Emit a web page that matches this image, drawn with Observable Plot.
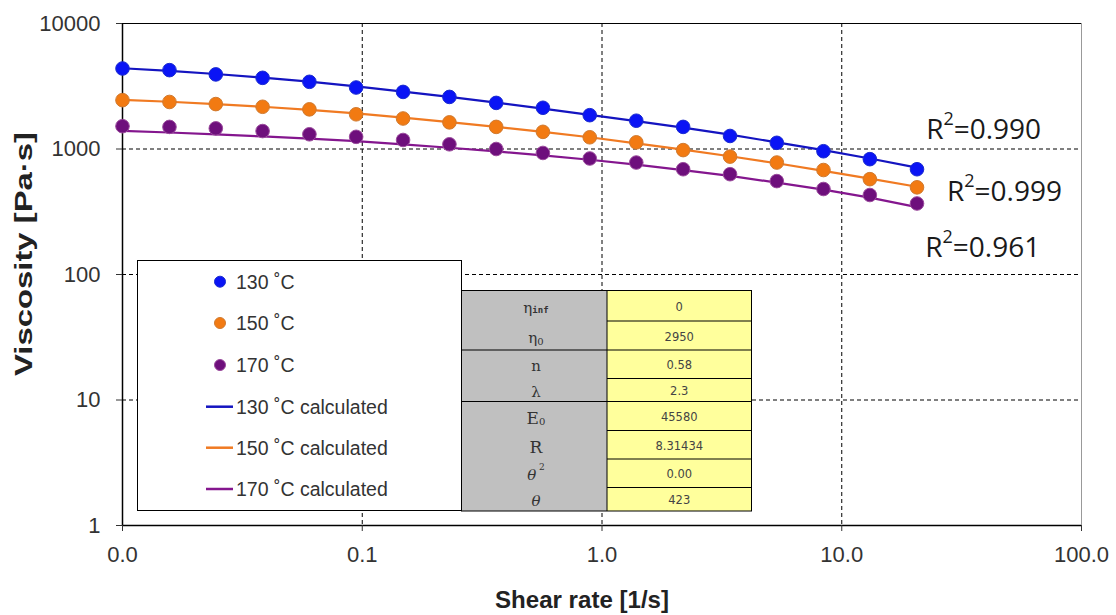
<!DOCTYPE html>
<html><head><meta charset="utf-8">
<script src="https://cdn.jsdelivr.net/npm/d3@7"></script>
<script src="https://cdn.jsdelivr.net/npm/@observablehq/plot@0.6"></script>
<style>
body{margin:0;background:#fff}
#chart svg{font-family:"Liberation Sans",Arial,sans-serif;background:#fff}
</style>
</head><body><div id="chart"></div>
<script>
// ---- data ----
const shearRate = [0.0100, 0.0157, 0.0245, 0.0384, 0.0602, 0.0943, 0.148, 0.231, 0.362, 0.567, 0.889, 1.39, 2.18, 3.42, 5.36, 8.39, 13.1, 20.6];
const eta130 = [4380, 4250, 3930, 3690, 3430, 3090, 2850, 2600, 2330, 2130, 1860, 1680, 1500, 1270, 1120, 960, 830, 690];
const eta150 = [2450, 2370, 2280, 2170, 2070, 1890, 1750, 1630, 1500, 1370, 1240, 1130, 980, 870, 780, 680, 575, 495];
const eta170 = [1520, 1500, 1460, 1390, 1310, 1250, 1180, 1090, 1000, 930, 840, 780, 690, 630, 555, 480, 430, 368];
const calc130 = [4400, 4200, 3960, 3710, 3440, 3150, 2870, 2600, 2340, 2100, 1870, 1670, 1480, 1300, 1130, 980, 840, 710];
const calc150 = [2460, 2380, 2280, 2170, 2050, 1920, 1780, 1640, 1500, 1370, 1240, 1110, 990, 875, 770, 670, 580, 500];
const calc170 = [1395, 1354, 1306, 1259, 1209, 1155, 1089, 1023, 956, 890, 821, 751, 678, 610, 540, 475, 410, 344];
const seriesNames = ["130 \u02DAC", "150 \u02DAC", "170 \u02DAC"];
const calcNames = ["130 \u02DAC calculated", "150 \u02DAC calculated", "170 \u02DAC calculated"];
const xTicks = [0.01, 0.1, 1, 10, 100];
const yTicks = [1, 10, 100, 1000, 10000];
const xTitle = "Shear rate [1/s]";
const yTitle = "Viscosity [Pa\u00B7s]";
const r2Labels = ["0.990", "0.999", "0.961"];
const r2Shear = [22.6, 27.6, 22.4];
const r2Eta = [1466, 470, 168];
const paramNames = ["eta_inf", "eta_0", "n", "lambda", "E_0", "R", "theta2", "theta"];
const paramValues = ["0", "2950", "0.58", "2.3", "45580", "8.31434", "0.00", "423"];

// ---- styling ----
const dotFill = ["#0a14f5", "#f27a12", "#6e0f7c"];
const dotStroke = ["#1a2bd0", "#d07a30", "#9a4a9c"];
const lineColor = ["#1414c0", "#f07a22", "#84168e"];

const measured = [];
const calculated = [];
[eta130, eta150, eta170].forEach((arr, s) => arr.forEach((v, i) => measured.push({x: shearRate[i], y: v, s})));
[calc130, calc150, calc170].forEach((arr, s) => arr.forEach((v, i) => calculated.push({x: shearRate[i], y: v, s})));

const plot = Plot.plot({
  width: 1116, height: 615,
  marginLeft: 122, marginRight: 35, marginTop: 23, marginBottom: 90,
  x: {type: "log", domain: [0.01, 100]},
  y: {type: "log", domain: [1, 10000]},
  marks: [
    Plot.ruleX([0.1, 1, 10], {stroke: "#000", strokeDasharray: "4,3", strokeWidth: 1}),
    Plot.ruleY([10, 100, 1000], {stroke: "#000", strokeDasharray: "4,3", strokeWidth: 1}),
    Plot.ruleX([100], {stroke: "#999", strokeWidth: 1}),
    Plot.ruleY([10000], {stroke: "#000", strokeWidth: 1.2}),
    Plot.ruleX([0.01], {stroke: "#000", strokeWidth: 1.5}),
    Plot.ruleY([1], {stroke: "#000", strokeWidth: 1.5}),
    Plot.axisX({ticks: xTicks, tickFormat: d => d.toFixed(1), tickSize: 6, tickPadding: 15, fontSize: 22, label: null, color: "#333"}),
    Plot.axisY({ticks: yTicks, tickFormat: d => String(d), tickSize: 6, tickPadding: 16, fontSize: 22, label: null, color: "#333"}),
    Plot.line(calculated, {x: "x", y: "y", z: "s", stroke: d => lineColor[d.s], strokeWidth: 2.2}),
    Plot.dot(measured, {x: "x", y: "y", r: 6.8, fill: d => dotFill[d.s], stroke: d => dotStroke[d.s], strokeWidth: 1})
  ]
});
document.getElementById("chart").appendChild(plot);

const svg = d3.select(plot);
const sx = plot.scale("x"), sy = plot.scale("y");

// axis titles
svg.append("text").attr("x", 582).attr("y", 599).attr("text-anchor", "middle").attr("dominant-baseline", "central")
  .attr("font-size", 24).attr("font-weight", "bold").attr("fill", "#222")
  .attr("textLength", 174).attr("lengthAdjust", "spacingAndGlyphs").text(xTitle);
svg.append("text").attr("transform", "translate(23,254) rotate(-90)").attr("text-anchor", "middle").attr("dominant-baseline", "central")
  .attr("font-size", 24).attr("font-weight", "bold").attr("fill", "#222")
  .attr("textLength", 244).attr("lengthAdjust", "spacingAndGlyphs").text(yTitle);

// R^2 annotations
r2Labels.forEach((lab, i) => {
  const t = svg.append("text").attr("x", sx.apply(r2Shear[i])).attr("y", sy.apply(r2Eta[i]))
    .attr("text-anchor", "start").attr("dominant-baseline", "central").attr("font-size", 28).attr("fill", "#1a1a1a")
    .attr("font-family", "'Open Sans','Liberation Sans',sans-serif");
  t.append("tspan").text("R");
  t.append("tspan").text("2").attr("font-size", 18).attr("dy", -10);
  t.append("tspan").text("=" + lab).attr("dy", 10);
});

// Legend box
const lg = svg.append("g");
lg.append("rect").attr("x", 137.5).attr("y", 260.5).attr("width", 324).attr("height", 250)
  .attr("fill", "#fff").attr("stroke", "#000").attr("stroke-width", 1);
const rowsY = [281.7, 323, 365, 406.7, 447.7, 489];
const legendItems = [
  ...seriesNames.map((n, i) => ({name: n, kind: "dot", i})),
  ...calcNames.map((n, i) => ({name: n, kind: "line", i}))
];
legendItems.forEach((it, k) => {
  const y = rowsY[k];
  if (it.kind === "dot") {
    lg.append("circle").attr("cx", 220).attr("cy", y).attr("r", 5.5).attr("fill", dotFill[it.i]).attr("stroke", dotStroke[it.i]);
  } else {
    lg.append("line").attr("x1", 206).attr("x2", 233).attr("y1", y).attr("y2", y).attr("stroke", lineColor[it.i]).attr("stroke-width", 2.5);
  }
  lg.append("text").attr("x", 236).attr("y", y).attr("text-anchor", "start").attr("dominant-baseline", "central")
    .attr("font-size", 19.5).attr("fill", "#333").text(it.name);
});

// Parameter table
const tb = svg.append("g");
const tx0 = 461.5, tx1 = 607, tx2 = 751.5;
const rowB = [290.5, 321, 350, 378.5, 401.5, 430.5, 459, 487.5, 511];
tb.append("rect").attr("x", tx0).attr("y", rowB[0]).attr("width", tx1 - tx0).attr("height", rowB[8] - rowB[0]).attr("fill", "#c0c0c0");
tb.append("rect").attr("x", tx1).attr("y", rowB[0]).attr("width", tx2 - tx1).attr("height", rowB[8] - rowB[0]).attr("fill", "#ffff9c");
for (let k = 1; k < 8; k++) {
  tb.append("line").attr("x1", tx1).attr("x2", tx2).attr("y1", rowB[k]).attr("y2", rowB[k]).attr("stroke", "#000");
}
[2, 4].forEach(k => tb.append("line").attr("x1", tx0).attr("x2", tx1).attr("y1", rowB[k]).attr("y2", rowB[k]).attr("stroke", "#000"));
tb.append("line").attr("x1", tx1).attr("x2", tx1).attr("y1", rowB[0]).attr("y2", rowB[8]).attr("stroke", "#000");
tb.append("rect").attr("x", tx0).attr("y", rowB[0]).attr("width", tx2 - tx0).attr("height", rowB[8] - rowB[0]).attr("fill", "none").attr("stroke", "#000");

paramValues.forEach((v, k) => {
  tb.append("text").attr("x", (tx1 + tx2) / 2).attr("y", (rowB[k] + rowB[k + 1]) / 2 + 1)
    .attr("text-anchor", "middle").attr("dominant-baseline", "central")
    .attr("font-family", "'DejaVu Sans',sans-serif").attr("font-size", 11.5).attr("fill", "#444").text(v);
});
const cx = 536;
const serif = "'DejaVu Serif','Liberation Serif',serif";
paramNames.forEach((p, k) => {
  const y = (rowB[k] + rowB[k + 1]) / 2 + 2;
  const t = tb.append("text").attr("x", cx).attr("y", y).attr("text-anchor", "middle").attr("dominant-baseline", "central")
    .attr("font-family", serif).attr("fill", "#333").attr("font-size", 15);
  if (p === "eta_inf") { t.append("tspan").text("\u03B7"); t.append("tspan").text("inf").attr("font-size", 9).attr("dy", 2).attr("font-family", "'DejaVu Sans Mono',monospace").attr("font-weight", "bold"); }
  else if (p === "eta_0") { t.append("tspan").text("\u03B7"); t.append("tspan").text("0").attr("font-size", 10).attr("dy", 3); }
  else if (p === "n") t.text("n");
  else if (p === "lambda") t.text("\u03BB");
  else if (p === "E_0") { t.attr("font-size", 17); t.append("tspan").text("E"); t.append("tspan").text("0").attr("font-size", 10).attr("dy", 3); }
  else if (p === "R") { t.attr("font-size", 17).text("R"); }
  else if (p === "theta2") { t.append("tspan").text("\u03B8").attr("font-style", "italic"); t.append("tspan").text(" 2").attr("font-size", 9).attr("dy", -8); }
  else if (p === "theta") { t.append("tspan").text("\u03B8").attr("font-style", "italic"); }
});
</script>
</body></html>
